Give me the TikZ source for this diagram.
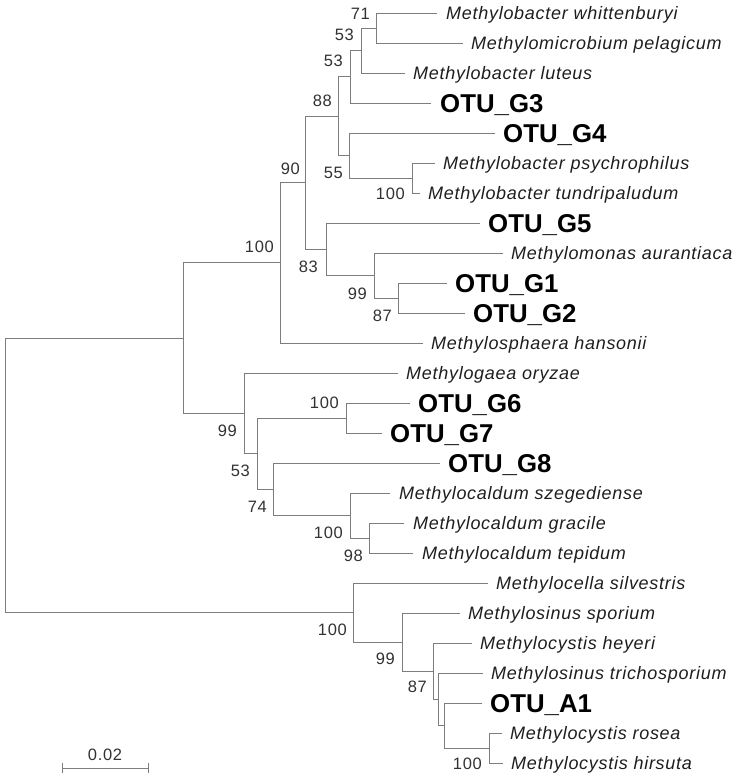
\documentclass[tikz,border=0pt]{standalone}
\usepackage{fontspec}
\usetikzlibrary{calc}
\setmainfont{Liberation Sans}
\newfontfamily\spacedsans[LetterSpace=4]{Liberation Sans}
\newfontfamily\numsans[LetterSpace=4]{Liberation Sans}
\definecolor{branch}{RGB}{125,125,125}
\definecolor{txt}{RGB}{30,30,30}
\definecolor{bstxt}{RGB}{50,50,50}
\tikzset{
  br/.style={draw=branch, line width=0.9pt, line cap=rect},
  leaf/.style={anchor=west, inner sep=0pt, text height=13pt, text depth=0pt, text=txt,
    font=\spacedsans\itshape\fontsize{18}{21}\selectfont},
  otu/.style={anchor=west, inner sep=0pt, text height=18.4pt, text depth=0pt, text=black,
    font=\bfseries\fontsize{25.8}{29}\selectfont},
  bs/.style={anchor=east, inner sep=0pt, text height=11.8pt, text depth=0pt, text=bstxt,
    font=\numsans\fontsize{16.5}{19}\selectfont},
}
\begin{document}
\begin{tikzpicture}[x=1pt,y=-1pt]
\useasboundingbox (0,0) rectangle (747,779);
% leaf tips
\coordinate (t1) at (437,13);
\coordinate (t2) at (463,43);
\coordinate (t3) at (405,73);
\coordinate (t4) at (431,103);
\coordinate (t5) at (495,133);
\coordinate (t6) at (435,163);
\coordinate (t7) at (420,193);
\coordinate (t8) at (480,223);
\coordinate (t9) at (503,253);
\coordinate (t10) at (447,283);
\coordinate (t11) at (465,313);
\coordinate (t12) at (423,343);
\coordinate (t13) at (398,373);
\coordinate (t14) at (410,403);
\coordinate (t15) at (382,433);
\coordinate (t16) at (440,463);
\coordinate (t17) at (390,493);
\coordinate (t18) at (404,523);
\coordinate (t19) at (413,553);
\coordinate (t20) at (488,583);
\coordinate (t21) at (460,613);
\coordinate (t22) at (472,643);
\coordinate (t23) at (483,673);
\coordinate (t24) at (482,703);
\coordinate (t25) at (502,733);
\coordinate (t26) at (503,763);
% internal nodes
\coordinate (n71) at (376,28);
\coordinate (n53a) at (361,50.5);
\coordinate (n53b) at (350,76.75);
\coordinate (n100a) at (412,178);
\coordinate (n55) at (349,155.5);
\coordinate (n88) at (338,116.1);
\coordinate (n87) at (398,298);
\coordinate (n99a) at (374,275.5);
\coordinate (n83) at (326,249.25);
\coordinate (n90) at (305,182.7);
\coordinate (n100b) at (280,262.85);
\coordinate (n100c) at (346,418);
\coordinate (n98) at (369,538);
\coordinate (n100d) at (350,515.5);
\coordinate (n74) at (273,489.25);
\coordinate (n53c) at (257,453.6);
\coordinate (n99b) at (244,413.3);
\coordinate (nG) at (183,338.1);
\coordinate (n100g) at (489,748);
\coordinate (nA) at (444,725.5);
\coordinate (nB) at (438,699.25);
\coordinate (n87b) at (433,671.1);
\coordinate (n99c) at (402,642.1);
\coordinate (n100f) at (353,612.5);
\coordinate (root) at (5,475.3);
% branches
\foreach \c/\p in {t1/n71,t2/n71,n71/n53a,t3/n53a,n53a/n53b,t4/n53b,
  t6/n100a,t7/n100a,t5/n55,n100a/n55,n53b/n88,n55/n88,
  t10/n87,t11/n87,t9/n99a,n87/n99a,t8/n83,n99a/n83,n88/n90,n83/n90,
  n90/n100b,t12/n100b,
  t14/n100c,t15/n100c,t18/n98,t19/n98,t17/n100d,n98/n100d,t16/n74,n100d/n74,
  n100c/n53c,n74/n53c,t13/n99b,n53c/n99b,n100b/nG,n99b/nG,
  t25/n100g,t26/n100g,t24/nA,n100g/nA,t23/nB,nA/nB,t22/n87b,nB/n87b,
  t21/n99c,n87b/n99c,t20/n100f,n99c/n100f,nG/root,n100f/root}
  \path[br] (\c) -| (\p);
% leaf labels
\node[leaf] (l1) at ([xshift=9pt]t1) {Methylobacter whittenburyi};
\node[leaf] (l2) at ([xshift=8pt]t2) {Methylomicrobium pelagicum};
\node[leaf] (l3) at ([xshift=8pt]t3) {Methylobacter luteus};
\node[otu] (l4) at ([xshift=9pt]t4) {OTU\_G3};
\node[otu] (l5) at ([xshift=8pt]t5) {OTU\_G4};
\node[leaf] (l6) at ([xshift=8pt]t6) {Methylobacter psychrophilus};
\node[leaf] (l7) at ([xshift=8pt]t7) {Methylobacter tundripaludum};
\node[otu] (l8) at ([xshift=8pt]t8) {OTU\_G5};
\node[leaf] (l9) at ([xshift=8pt]t9) {Methylomonas aurantiaca};
\node[otu] (l10) at ([xshift=8pt]t10) {OTU\_G1};
\node[otu] (l11) at ([xshift=8pt]t11) {OTU\_G2};
\node[leaf] (l12) at ([xshift=8pt]t12) {Methylosphaera hansonii};
\node[leaf] (l13) at ([xshift=8pt]t13) {Methylogaea oryzae};
\node[otu] (l14) at ([xshift=8pt]t14) {OTU\_G6};
\node[otu] (l15) at ([xshift=8pt]t15) {OTU\_G7};
\node[otu] (l16) at ([xshift=8pt]t16) {OTU\_G8};
\node[leaf] (l17) at ([xshift=9pt]t17) {Methylocaldum szegediense};
\node[leaf] (l18) at ([xshift=9pt]t18) {Methylocaldum gracile};
\node[leaf] (l19) at ([xshift=9pt]t19) {Methylocaldum tepidum};
\node[leaf] (l20) at ([xshift=8pt]t20) {Methylocella silvestris};
\node[leaf] (l21) at ([xshift=8pt]t21) {Methylosinus sporium};
\node[leaf] (l22) at ([xshift=8pt]t22) {Methylocystis heyeri};
\node[leaf] (l23) at ([xshift=8pt]t23) {Methylosinus trichosporium};
\node[otu] (l24) at ([xshift=8pt]t24) {OTU\_A1};
\node[leaf] (l25) at ([xshift=8pt]t25) {Methylocystis rosea};
\node[leaf] (l26) at ([xshift=8pt]t26) {Methylocystis hirsuta};
% bootstrap values
\node[bs] (b71) at (370,13.5) {71};
\node[bs] (b53a) at (354,35) {53};
\node[bs] (b53b) at (343,61) {53};
\node[bs] (b88) at (332,101) {88};
\node[bs] (b90) at (300,169) {90};
\node[bs] (b55) at (343,173) {55};
\node[bs] (b100a) at (405,194) {100};
\node[bs] (b100b) at (274,247) {100};
\node[bs] (b83) at (318,267) {83};
\node[bs] (b99a) at (367,294) {99};
\node[bs] (b87) at (392,316) {87};
\node[bs] (b100c) at (339,403) {100};
\node[bs] (b99b) at (237,431) {99};
\node[bs] (b53c) at (250,471) {53};
\node[bs] (b74) at (267,507) {74};
\node[bs] (b100d) at (343,533) {100};
\node[bs] (b98) at (363,556) {98};
\node[bs] (b100f) at (347,630) {100};
\node[bs] (b99c) at (395,659) {99};
\node[bs] (b87b) at (427,687) {87};
\node[bs] (b100g) at (482,764) {100};
% scale bar
\coordinate (sA) at (62,768);
\coordinate (sB) at (148,768);
\path[br, line cap=butt] (sA) -- (sB);
\path[br, line cap=butt] ([yshift=-5pt]sA) -- ([yshift=5pt]sA);
\path[br, line cap=butt] ([yshift=-5pt]sB) -- ([yshift=5pt]sB);
\node[bs, anchor=center] (scl) at ($(sA)!0.5!(sB)+(0,-13)$) {0.02};
\end{tikzpicture}
\end{document}
